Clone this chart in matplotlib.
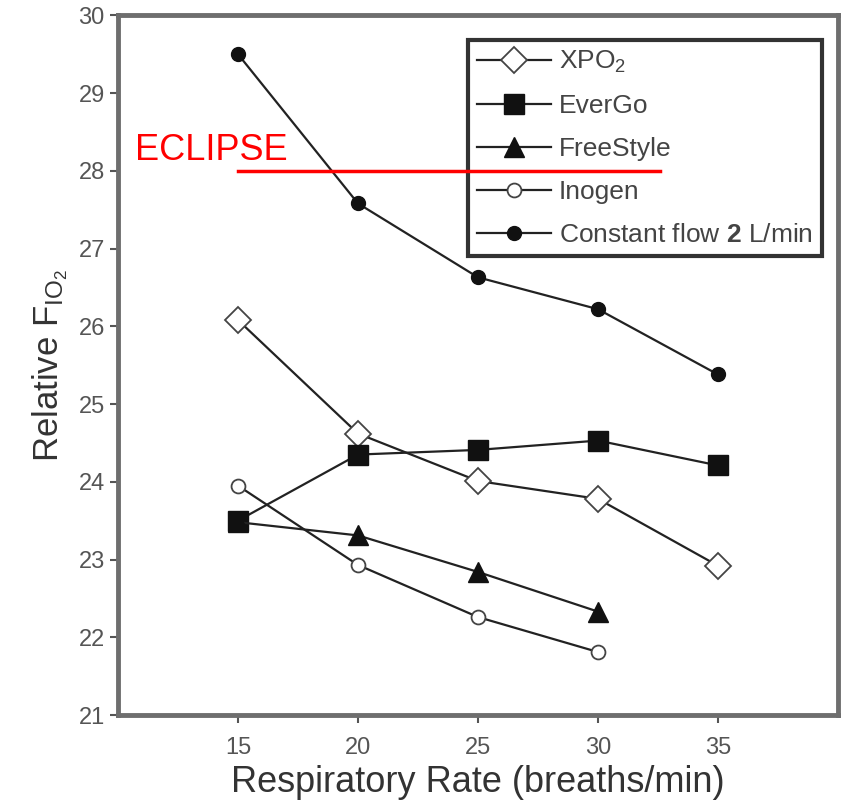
import matplotlib
matplotlib.use("Agg")
import matplotlib.pyplot as plt

plt.rcParams['font.family'] = ['Liberation Sans', 'DejaVu Sans']
plt.rcParams['mathtext.fontset'] = 'custom'
plt.rcParams['mathtext.rm'] = 'Liberation Sans'
plt.rcParams['mathtext.it'] = 'Liberation Sans:italic'
plt.rcParams['mathtext.bf'] = 'Liberation Sans:bold'

rates = [15, 20, 25, 30, 35]
xpo2 = [26.08, 24.62, 24.01, 23.78, 22.92]
evergo = [23.50, 24.35, 24.41, 24.53, 24.21]
freestyle = [23.48, 23.31, 22.84, 22.33]
inogen = [23.95, 22.93, 22.26, 21.81]
constant = [29.50, 27.58, 26.63, 26.22, 25.38]
yticks = list(range(21, 31))
xticks = [15, 20, 25, 30, 35]

fig = plt.figure(figsize=(8.41, 8.07), dpi=100)
ax = fig.add_axes([0.1403, 0.114, 0.8561, 0.867])

lc = '#222222'
ax.plot(rates, xpo2, '-', color=lc, lw=1.6, marker='D', ms=13, mfc='white', mec='#444444', mew=1.3, label='XPO$_2$')
ax.plot(rates, evergo, '-', color=lc, lw=1.6, marker='s', ms=15, mfc='#111111', mec='#111111', label='EverGo')
ax.plot(rates[:4], freestyle, '-', color=lc, lw=1.6, marker='^', ms=15, mfc='#111111', mec='#111111', label='FreeStyle')
ax.plot(rates[:4], inogen, '-', color=lc, lw=1.6, marker='o', ms=10, mfc='white', mec='#444444', mew=1.3, label='Inogen')
ax.plot(rates, constant, '-', color=lc, lw=1.6, marker='o', ms=10, mfc='#111111', mec='#111111',
        label=r'Constant flow $\mathbf{2}$ L/min')

ax.set_xlim(10, 40)
ax.set_ylim(21, 30)
ax.set_xticks(xticks)
ax.set_yticks(yticks)
ax.tick_params(axis='both', labelsize=17, colors='#555555', length=6, width=1.5, direction='out')
ax.tick_params(axis='x', pad=10)
for s in ax.spines.values():
    s.set_color('#6e6e6e')
    s.set_linewidth(3.5)

ax.set_xlabel('Respiratory Rate (breaths/min)', fontsize=26, color='#333333', labelpad=4)
ax.set_ylabel(r'Relative F$_{\mathregular{IO_2}}$', fontsize=25, color='#333333', labelpad=6)

leg = ax.legend(loc='upper right', bbox_to_anchor=(0.978, 0.965), borderaxespad=0,
                fontsize=19, frameon=True, fancybox=False, edgecolor='#333333',
                handlelength=2.8, handletextpad=0.3, borderpad=0.35, labelspacing=0.72,
                framealpha=1)
leg.get_frame().set_linewidth(3)
leg.set_zorder(4)
for t in leg.get_texts():
    t.set_color('#444444')

ax.plot([15, 32.6], [28.0, 28.0], color='red', lw=2.5, zorder=10)
ax.text(10.7, 28.26, 'ECLIPSE', color='red', fontsize=26,
        ha='left', va='center', zorder=10)

fig.savefig('out.png', dpi=100)
